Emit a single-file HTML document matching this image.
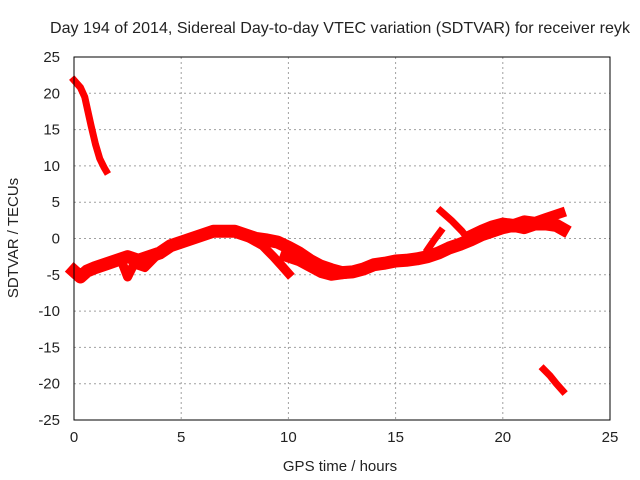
<!DOCTYPE html>
<html><head><meta charset="utf-8"><style>
body{margin:0;background:#fff}
svg{display:block;font-family:"Liberation Sans",sans-serif}
</style></head><body>
<svg id="c" width="640" height="480"></svg>
<script>
const xTicks=[0,5,10,15,20,25];
const yTicks=[25,20,15,10,5,0,-5,-10,-15,-20,-25];
const trackTopLeft=[[0,21.8],[0.3,20.8],[0.5,19.5],[0.65,17.5],[0.8,15.5],[1,13],[1.2,11],[1.4,9.8],[1.5,9.3]];
const trackMain=[[0,-4.5],[0.3,-5.3],[0.6,-4.5],[1,-4],[1.5,-3.5],[2,-3],[2.5,-2.5],[3,-3],[3.5,-2.5],[4,-2],[4.5,-1],[5,-0.5],[5.5,0],[6,0.5],[6.5,1],[7,1],[7.5,1],[8,0.5],[8.5,0],[9,-0.2],[9.5,-0.5],[10,-1.2],[10.5,-2],[11,-3],[11.5,-3.8],[12,-4.3],[12.5,-4.7],[13,-4.6],[13.5,-4.2],[14,-3.6],[14.5,-3.4],[15,-3.1],[15.5,-3],[16,-2.8],[16.5,-2.5],[17,-2],[17.5,-1.3],[18,-0.8],[18.5,-0.2],[19,0.5],[19.5,1],[20,1.5],[20.5,1.8],[21,1.5],[21.5,2],[22,2],[22.5,1.8],[22.8,1.3]];
const trackLow1=[[8.2,0],[8.8,-1],[9.3,-2.5],[9.7,-3.8],[10,-4.8]];
const trackLow2=[[9.8,-2.5],[10.5,-3.2],[11,-4],[11.5,-4.8],[12,-5.2],[12.5,-5]];
const trackLeftDip=[[2.2,-3],[2.5,-5.3],[2.8,-3.5],[3.3,-4],[3.8,-2.5]];
const trackBranchDown=[[17.1,3.8],[17.6,2.5],[18.1,1],[18.5,-0.5]];
const trackBranchUp=[[16.5,-1.5],[16.8,-0.2],[17.1,1]];
const trackUpper=[[18.5,0.5],[19,1.2],[19.5,1.8],[20,2.2],[20.5,2],[21,2.5],[21.5,2.3],[22,2.8],[22.7,3.5]];
const trackBottomRight=[[21.9,-18],[22.2,-18.9],[22.5,-20],[22.8,-21]];
const tracks=[trackTopLeft,trackMain,trackLow1,trackLow2,trackLeftDip,trackBranchDown,trackBranchUp,trackUpper,trackBottomRight];
const widths=[7,13,9,9,9,7,7,10,7];
const L=74,R=610,T=57,B=420;
const X=v=>L+(v-0)/25*(R-L);
const Y=v=>T+(25-v)/50*(B-T);
const svg=document.getElementById('c');
const NS='http://www.w3.org/2000/svg';
function mk(tag,attrs,txt){const e=document.createElementNS(NS,tag);for(const k in attrs)e.setAttribute(k,attrs[k]);if(txt!==undefined)e.textContent=txt;svg.appendChild(e);return e;}
xTicks.forEach(t=>{
 if(t>0&&t<25){const g=mk('line',{x1:X(t),x2:X(t),y1:T,y2:B,stroke:'#a0a0a0','stroke-dasharray':'2,3'});
 
 }
 const tk=mk('text',{x:X(t),y:B+22,'text-anchor':'middle','font-size':15,fill:'#222'},t);
 
 
});
yTicks.forEach(t=>{
 if(t<25&&t>-25){const g=mk('line',{x1:L,x2:R,y1:Y(t),y2:Y(t),stroke:'#a0a0a0','stroke-dasharray':'2,3'});
 
 }
 const tk=mk('text',{x:60,y:Y(t)+5,'text-anchor':'end','font-size':15,fill:'#222'},t);
 
 
});
tracks.forEach((tr,i)=>{
 const p=mk('polyline',{points:tr.map(d=>X(d[0])+','+Y(d[1])).join(' '),fill:'none',stroke:'#ff0000','stroke-width':widths[i],'stroke-linejoin':'round','stroke-linecap':'square'});
 
 
});
const fr=mk('rect',{x:L,y:T,width:R-L,height:B-T,fill:'none',stroke:'#000','stroke-width':1});


const ti=mk('text',{x:340,y:33,'text-anchor':'middle','font-size':16,fill:'#222',textLength:580,lengthAdjust:'spacingAndGlyphs'},'Day 194 of 2014, Sidereal Day-to-day VTEC variation (SDTVAR) for receiver reyk');


const xl=mk('text',{x:340,y:471,'text-anchor':'middle','font-size':15,fill:'#222'},'GPS time / hours');


const yl=mk('text',{x:18,y:238,'text-anchor':'middle','font-size':15,fill:'#222',transform:'rotate(-90 18 238)'},'SDTVAR / TECUs');


</script>
</body></html>
